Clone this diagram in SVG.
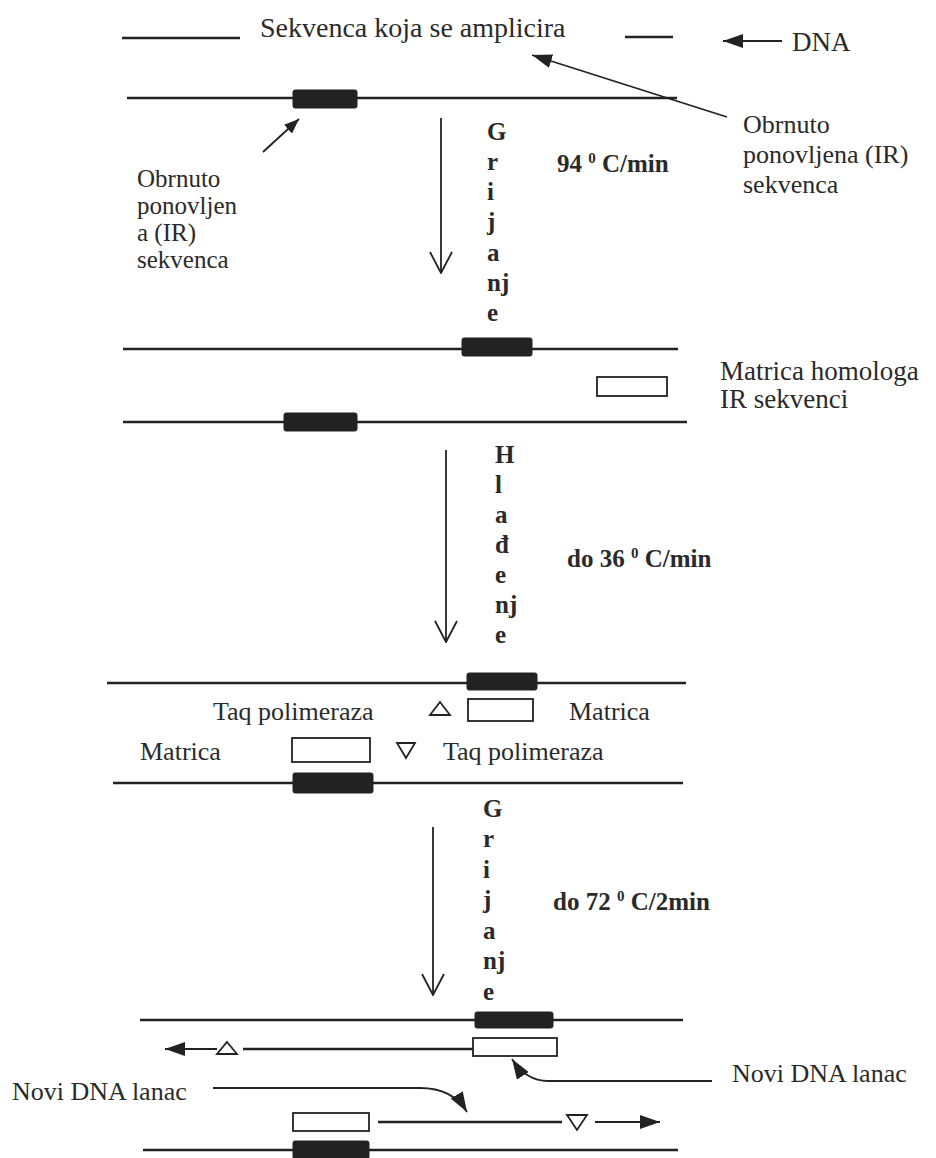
<svg xmlns="http://www.w3.org/2000/svg" width="936" height="1158" viewBox="0 0 936 1158">
<style>
.t{font-family:"Liberation Serif","Times New Roman",serif;font-size:26px;fill:#2a2a2a}
.l{font-size:25px}
.b{font-family:"Liberation Serif","Times New Roman",serif;font-size:25px;font-weight:bold;fill:#2a2a2a}
.sup{font-size:15px}
.ln{stroke:#222;stroke-width:2.6;fill:none}
.ar{stroke:#222;stroke-width:1.8;fill:none}
.dark{fill:#222;stroke:#222;stroke-width:1}
.open{fill:#fff;stroke:#222;stroke-width:1.8}
.tri{fill:none;stroke:#222;stroke-width:1.8}
</style>
<defs>
<marker id="fa" viewBox="0 0 20 14" refX="20" refY="7" markerWidth="20" markerHeight="14" orient="auto" markerUnits="userSpaceOnUse">
<path d="M0,0 L20,7 L0,14 z" fill="#222"/>
</marker>
<marker id="fs" viewBox="0 0 15 12" refX="15" refY="6" markerWidth="15" markerHeight="12" orient="auto" markerUnits="userSpaceOnUse">
<path d="M0,0 L15,6 L0,12 z" fill="#222"/>
</marker>
<marker id="va" viewBox="0 0 23 24" refX="22" refY="12" markerWidth="23" markerHeight="24" orient="auto" markerUnits="userSpaceOnUse">
<path d="M1,1 L22,12 L1,23" fill="none" stroke="#222" stroke-width="1.8"/>
</marker>
</defs>
<rect width="936" height="1158" fill="#fff"/>

<g id="legend">
<line class="ln" x1="122" y1="38" x2="240" y2="38"/>
<text class="t" x="260" y="37" style="font-size:28px">Sekvenca koja se amplicira</text>
<line class="ln" x1="625" y1="37" x2="673" y2="37"/>
<text class="t" x="792" y="51" style="font-size:27px">DNA</text>
</g>

<g id="strand1">
<line class="ln" x1="127" y1="98" x2="677" y2="98"/>
<rect class="dark" x="293" y="90" width="64" height="18" rx="2"/>
</g>

<g id="label-ir-left">
<text class="t l" x="137" y="187">Obrnuto</text>
<text class="t l" x="137" y="214">ponovljen</text>
<text class="t l" x="137" y="241">a (IR)</text>
<text class="t l" x="137" y="268">sekvenca</text>
</g>

<g id="label-ir-right">
<text class="t" x="743" y="133">Obrnuto</text>
<text class="t" x="743" y="163">ponovljena (IR)</text>
<text class="t" x="743" y="193">sekvenca</text>
</g>

<g id="step1-label">
<text class="b" x="487" y="140">G</text>
<text class="b" x="487" y="170">r</text>
<text class="b" x="487" y="200">i</text>
<text class="b" x="487" y="230">j</text>
<text class="b" x="487" y="261">a</text>
<text class="b" x="487" y="291">nj</text>
<text class="b" x="487" y="321">e</text>
<text class="b" x="557" y="172">94 <tspan class="sup" dy="-9">0</tspan><tspan dy="9"> C/min</tspan></text>
</g>

<g id="strand2">
<line class="ln" x1="123" y1="349" x2="678" y2="349"/>
<rect class="dark" x="462" y="338" width="70" height="18" rx="2"/>
<rect class="open" x="597" y="377" width="70" height="19"/>
<line class="ln" x1="123" y1="422" x2="687" y2="422"/>
<rect class="dark" x="284" y="413" width="73" height="18" rx="2"/>
</g>

<g id="label-matrica-homologa">
<text class="t" x="720" y="380" style="font-size:27px">Matrica homologa</text>
<text class="t" x="720" y="408" style="font-size:27px">IR sekvenci</text>
</g>

<g id="step2-label">
<text class="b" x="495" y="463">H</text>
<text class="b" x="495" y="493">l</text>
<text class="b" x="495" y="523">a</text>
<text class="b" x="495" y="553">đ</text>
<text class="b" x="495" y="583">e</text>
<text class="b" x="495" y="613">nj</text>
<text class="b" x="495" y="643">e</text>
<text class="b" x="567" y="567">do 36 <tspan class="sup" dy="-9">0</tspan><tspan dy="9"> C/min</tspan></text>
</g>

<g id="strand3">
<line class="ln" x1="107" y1="683" x2="686" y2="683"/>
<rect class="dark" x="467" y="673" width="70" height="17" rx="2"/>
<path class="tri" d="M440,702 L450,715 L430,715 z"/>
<rect class="open" x="468" y="699" width="65" height="22"/>
<text class="t" x="213" y="720">Taq polimeraza</text>
<text class="t" x="569" y="720">Matrica</text>
<text class="t" x="140" y="760">Matrica</text>
<rect class="open" x="292" y="738" width="78" height="24"/>
<path class="tri" d="M397,743 L415,743 L406,758 z"/>
<text class="t" x="443" y="760">Taq polimeraza</text>
<line class="ln" x1="113" y1="783" x2="683" y2="783"/>
<rect class="dark" x="293" y="773" width="80" height="20" rx="2"/>
</g>

<g id="step3-label">
<text class="b" x="483" y="817">G</text>
<text class="b" x="483" y="847">r</text>
<text class="b" x="483" y="878">i</text>
<text class="b" x="483" y="908">j</text>
<text class="b" x="483" y="939">a</text>
<text class="b" x="483" y="969">nj</text>
<text class="b" x="483" y="1000">e</text>
<text class="b" x="553" y="910">do 72 <tspan class="sup" dy="-9">0</tspan><tspan dy="9"> C/2min</tspan></text>
</g>

<g id="strand4">
<line class="ln" x1="140" y1="1020" x2="683" y2="1020"/>
<rect class="dark" x="475" y="1012" width="78" height="16" rx="2"/>
<path class="tri" d="M227,1042 L237,1054 L217,1054 z"/>
<line class="ln" x1="243" y1="1049" x2="473" y2="1049"/>
<rect class="open" x="473" y="1038" width="84" height="18"/>
<rect class="open" x="293" y="1113" width="76" height="18"/>
<line class="ln" x1="378" y1="1122" x2="562" y2="1122"/>
<path class="tri" d="M567,1115 L587,1115 L577,1130 z"/>
<line class="ln" x1="143" y1="1150" x2="678" y2="1150"/>
<rect class="dark" x="293" y="1141" width="76" height="18" rx="2"/>
</g>

<g id="label-novi">
<text class="t" x="732" y="1082">Novi DNA lanac</text>
<text class="t" x="12" y="1100">Novi DNA lanac</text>
</g>

<g id="connectors">
<line class="ar" x1="782" y1="41" x2="723" y2="41" marker-end="url(#fa)"/>
<line class="ar" x1="727" y1="117" x2="532" y2="55" marker-end="url(#fa)"/>
<line class="ar" x1="263" y1="152" x2="299" y2="119" marker-end="url(#fs)"/>
<line class="ar" x1="441" y1="118" x2="441" y2="273" marker-end="url(#va)"/>
<line class="ar" x1="446" y1="450" x2="446" y2="642" marker-end="url(#va)"/>
<line class="ar" x1="433" y1="827" x2="433" y2="995" marker-end="url(#va)"/>
<line class="ar" x1="217" y1="1049" x2="165" y2="1049" marker-end="url(#fa)"/>
<line class="ar" x1="595" y1="1122" x2="660" y2="1122" marker-end="url(#fa)"/>
<path class="ar" d="M712,1081 L548,1081 C532,1081 521,1073 512,1059" marker-end="url(#fa)"/>
<path class="ar" d="M213,1088 L420,1088 C444,1088 458,1097 467,1112" marker-end="url(#fa)"/>
</g>
</svg>
